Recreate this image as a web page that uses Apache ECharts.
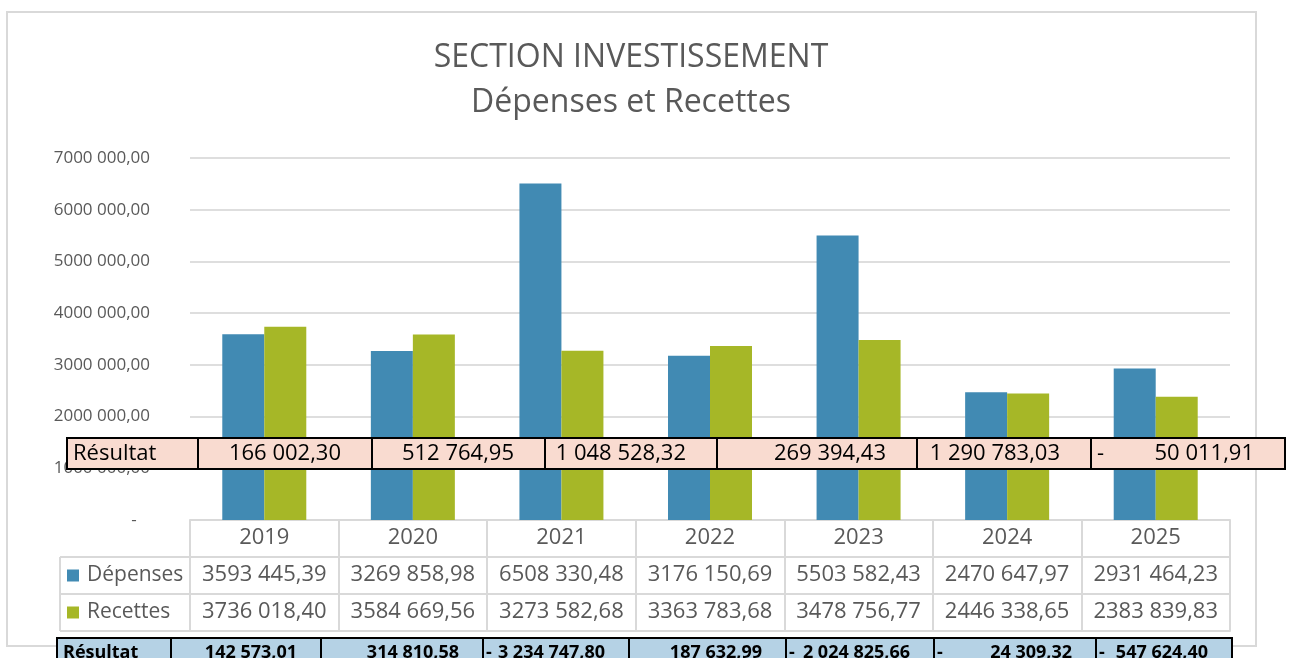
<!DOCTYPE html>
<html><head><meta charset="utf-8">
<script src="https://cdn.jsdelivr.net/npm/echarts@6/dist/echarts.min.js"></script>
<style>html,body{margin:0;padding:0;background:#fff}#c{width:1293px;height:658px}</style>
</head><body><div id="c"></div>
<script>
// ---- data ----
const years = ['2019', '2020', '2021', '2022', '2023', '2024', '2025'];
const depenses = [3593445.39, 3269858.98, 6508330.48, 3176150.69, 5503582.43, 2470647.97, 2931464.23];
const recettes = [3736018.40, 3584669.56, 3273582.68, 3363783.68, 3478756.77, 2446338.65, 2383839.83];
const resultatPink = [166002.30, 512764.95, 1048528.32, 269394.43, 1290783.03, -50011.91];
const resultatBlue = [142573.01, 314810.58, -3234747.80, 187632.99, -2024825.66, -24309.32, -547624.40];
const titleLines = ['SECTION INVESTISSEMENT', 'Dépenses et Recettes'];
const rowLabel = 'Résultat';

// ---- layout (not data) ----
const pinkEdges = [67, 198, 372, 545, 717, 917, 1091, 1285];
const blueEdges = [57, 171, 321, 483, 629, 786, 934, 1096, 1232];
const FONT = '"Open Sans", "Noto Sans", sans-serif';
const GRAY = '#595959';
const LINE = '#D9D9D9';

function fmtExcel(v) {
  const [i, d] = Math.abs(v).toFixed(2).split('.');
  const head = i.length > 3 ? i.slice(0, -3) + ' ' + i.slice(-3) : i;
  return head + ',' + d;
}
function fmtFull(v) {
  const [i, d] = Math.abs(v).toFixed(2).split('.');
  return i.replace(/\B(?=(\d{3})+(?!\d))/g, ' ') + ',' + d;
}

const chart = echarts.init(document.getElementById('c'));

const graphics = [];
graphics.push({type: 'rect', z: -10, silent: true,
  shape: {x: 7, y: 12, width: 1249, height: 634},
  style: {fill: 'none', stroke: LINE, lineWidth: 2}});
graphics.push({type: 'text', x: 631, y: 58, z: 10,
  style: {text: titleLines[0], font: '32px ' + FONT, fill: GRAY, textAlign: 'center', textVerticalAlign: 'middle'}});
graphics.push({type: 'text', x: 631, y: 103, z: 10,
  style: {text: titleLines[1], font: '32px ' + FONT, fill: GRAY, textAlign: 'center', textVerticalAlign: 'middle'}});
// legend column borders of the data table
[[60, 557, 190, 557], [60, 594, 190, 594], [60, 631, 190, 631], [60, 557, 60, 631]].forEach(l => {
  graphics.push({type: 'line', z: 5, silent: true,
    shape: {x1: l[0], y1: l[1], x2: l[2], y2: l[3]},
    style: {stroke: LINE, lineWidth: 2}});
});

function addRow(edges, y, h, fill, values, opt) {
  for (let k = 0; k < edges.length - 1; k++) {
    graphics.push({type: 'rect', z: 100, silent: true,
      shape: {x: edges[k], y: y, width: edges[k + 1] - edges[k], height: h},
      style: {fill: fill, stroke: '#000', lineWidth: 2}});
  }
  const cy = y + h / 2;
  graphics.push({type: 'text', z: 101, x: edges[0] + opt.labelPad, y: cy,
    style: {text: rowLabel, font: opt.font, fill: '#000', textAlign: 'left', textVerticalAlign: 'middle'}});
  values.forEach((v, k) => {
    const l = edges[k + 1], r = edges[k + 2];
    graphics.push({type: 'text', z: 101, x: r - opt.rightPad, y: cy,
      style: {text: fmtFull(v), font: opt.font, fill: '#000', textAlign: 'right', textVerticalAlign: 'middle'}});
    if (v < 0) {
      graphics.push({type: 'text', z: 101, x: l + opt.minusPad, y: cy,
        style: {text: '-', font: opt.font, fill: '#000', textAlign: 'left', textVerticalAlign: 'middle'}});
    }
  });
}
addRow(pinkEdges, 438, 31, '#F9DBD0', resultatPink, {labelPad: 6, rightPad: 31, minusPad: 6, font: '22px ' + FONT});
addRow(blueEdges, 638, 30, '#B5D2E5', resultatBlue, {labelPad: 6, rightPad: 24, minusPad: 3, font: 'bold 18px ' + FONT});

const rowAxis = (offset, labels) => ({
  type: 'category', data: years, position: 'bottom', offset: offset,
  axisLine: {show: true, lineStyle: {color: LINE, width: 2}},
  axisTick: {show: false},
  axisLabel: {show: !!labels, interval: 0, margin: 7, fontSize: 22, fontFamily: FONT, color: GRAY,
    formatter: labels ? ((val, idx) => labels[idx]) : undefined}
});

chart.setOption({
  animation: false,
  backgroundColor: '#fff',
  textStyle: {fontFamily: FONT},
  grid: {left: 190, right: 63, top: 158, bottom: 138, containLabel: false},
  legend: {
    orient: 'vertical', left: 67, top: 565, padding: 0, itemGap: 16,
    itemWidth: 12, itemHeight: 12, icon: 'rect', selectedMode: false,
    textStyle: {fontSize: 21, fontFamily: FONT, color: GRAY, padding: [0, 0, 0, 3]},
    data: ['Dépenses', 'Recettes']
  },
  xAxis: [
    {
      type: 'category', data: years, position: 'bottom',
      axisLine: {show: true, lineStyle: {color: LINE, width: 2}},
      axisTick: {show: true, interval: 0, length: 111, lineStyle: {color: LINE, width: 2}},
      axisLabel: {interval: 0, margin: 7, fontSize: 22, fontFamily: FONT, color: GRAY}
    },
    rowAxis(37, depenses.map(fmtExcel)),
    rowAxis(74, recettes.map(fmtExcel)),
    rowAxis(111, null)
  ],
  yAxis: {
    type: 'value', min: 0, max: 7000000, interval: 1000000,
    axisLine: {show: false}, axisTick: {show: false},
    axisLabel: {margin: 40, fontSize: 17, fontFamily: FONT, color: GRAY,
      formatter: v => v === 0 ? '-   ' : fmtExcel(v)},
    splitLine: {lineStyle: {color: '#DEDEDE', width: 2}}
  },
  series: [
    {name: 'Dépenses', type: 'bar', data: depenses, barWidth: 42, barGap: '0%',
      itemStyle: {color: '#418AB3'}},
    {name: 'Recettes', type: 'bar', data: recettes, barWidth: 42, barGap: '0%',
      itemStyle: {color: '#A6B727'}}
  ],
  graphic: graphics
});
</script>
</body></html>
